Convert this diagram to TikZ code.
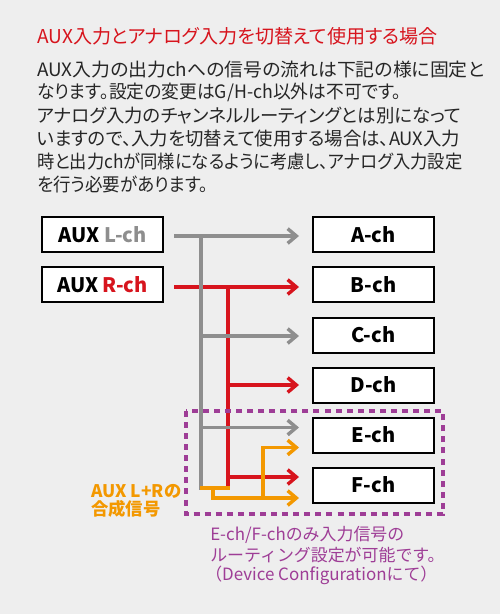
\documentclass[tikz,border=0pt]{standalone}
\usepackage{fontspec}
\setmainfont{Noto Sans CJK JP}
\newfontfamily\jpp{Noto Sans CJK JP}[RawFeature=+palt]
\usetikzlibrary{arrows.meta,calc}
\definecolor{bg}{HTML}{EEEEEE}
\definecolor{myred}{HTML}{D7141D}
\definecolor{mygray}{HTML}{8E8E8E}
\definecolor{myorange}{HTML}{F39800}
\definecolor{mypurple}{HTML}{9E3D96}
\tikzset{
  chbox/.style={draw=black, line width=1.5pt, fill=white, minimum width=90.75pt, minimum height=26.25pt, inner sep=0pt, font=\bfseries\fontsize{15}{18}\selectfont},
  bodyline/.style={anchor=west, inner sep=0pt, font=\jpp\fontsize{13.8}{16}\selectfont, text=black!85},
  notetext/.style={anchor=west, inner sep=0pt, text=mypurple, font=\fontsize{12.7}{15}\selectfont},
  sumtext/.style={anchor=west, inner sep=0pt, text=myorange, font=\bfseries\fontsize{13}{13}\selectfont},
  tip/.style={-{Straight Barb[length=6.5pt,width=11pt]}},
  grayline/.style={draw=mygray, line width=2.6pt},
  redline/.style={draw=myred, line width=2.6pt},
  orangeline/.style={draw=myorange, line width=2.6pt},
}
\begin{document}
\begin{tikzpicture}[x=0.75pt,y=-0.75pt]
\fill[bg] (0,0) rectangle (500,614);
\useasboundingbox (0,0) rectangle (500,614);
% title and body
\node[anchor=west, inner sep=0pt, text=myred, font=\jpp\fontsize{14.3}{17}\selectfont] (title) at (37,36.5) {AUX入力とアナログ入力を切替えて使用する場合};
\node[bodyline] (t1) at (37,70) {\scalebox{1.025}[1]{AUX入力の出力chへの信号の流れは下記の様に固定と}};
\node[bodyline] (t2) at (37,92.9) {\scalebox{0.965}[1]{なります。設定の変更はG/H-ch以外は不可です。}};
\node[bodyline] (t3) at (37,115.8) {アナログ入力のチャンネルルーティングとは別になって};
\node[bodyline] (t4) at (37,138.7) {いますので、入力を切替えて使用する場合は、AUX入力};
\node[bodyline] (t5) at (37,161.6) {\scalebox{0.94}[1]{時と出力chが同様になるように考慮し、アナログ入力設定}};
\node[bodyline] (t6) at (37,184.5) {\scalebox{0.95}[1]{を行う必要があります。}};
% boxes
\node[chbox] (Lch) at (102.5,234.5) {AUX \textcolor{mygray}{L-ch}};
\node[chbox] (Rch) at (102.5,284.5) {AUX \textcolor{myred}{R-ch}};
\node[chbox] (A) at (373.5,234.5) {A-ch};
\node[chbox] (B) at (373.5,284.5) {B-ch};
\node[chbox] (C) at (373.5,335) {C-ch};
\node[chbox] (D) at (373.5,385) {D-ch};
\node[chbox] (E) at (373.5,435) {E-ch};
\node[chbox] (F) at (373.5,485) {F-ch};
% coordinates
\coordinate (gv) at (201,0);
\coordinate (rv) at (228,0);
\coordinate (ot) at (213,0);
\coordinate (ov) at (263,0);
\coordinate (bot) at (0,490);
\coordinate (obot) at (0,488);
\coordinate (gs) at ($(Lch.east)+(10,1.5)$);
\coordinate (rs) at ($(Rch.east)+(10,2.5)$);
\coordinate (yA) at ($(A.west)+(-13,1.5)$);
\coordinate (yB) at ($(B.west)+(-13,2.5)$);
\coordinate (yC) at ($(C.west)+(-13,1)$);
\coordinate (yD) at ($(D.west)+(-13,0)$);
\coordinate (yE) at ($(E.west)+(-13,-7.5)$);
\coordinate (yE2) at ($(E.west)+(-13,12.5)$);
\coordinate (yF) at ($(F.west)+(-13,-8)$);
\coordinate (yF2) at ($(F.west)+(-13,13)$);
% red
\draw[redline,tip] (rs) -- (yB);
\draw[redline] (rs -| rv) -- (bot -| rv);
\draw[redline,tip] (yD -| rv) -- (yD);
\draw[redline,tip] (yF -| rv) -- (yF);
% gray
\draw[grayline,tip] (gs) -- (yA);
\draw[grayline] (gs -| gv) -- (bot -| gv);
\draw[grayline,tip] (yC -| gv) -- (yC);
\draw[grayline,tip] (yE -| gv) -- (yE);
% orange
\draw[orangeline] ($(obot -| gv)+(-1.5,0)$) -- ($(obot -| rv)+(1.5,0)$);
\draw[orangeline,tip] (obot -| ot) -- (yF2 -| ot) -- (yF2);
\draw[orangeline,tip] (yF2 -| ov) -- (yE2 -| ov) -- (yE2);
% dashed frame
\draw[draw=mypurple, line width=2.3pt, dash pattern=on 4.5pt off 3.8pt] (186,411) rectangle (443,514);
% labels
\node[sumtext] (sum1) at (91,491) {AUX L+Rの};
\node[sumtext] (sum2) at (91,508.5) {合成信号};
\node[notetext] (n1) at (210,535) {E-ch/F-chのみ入力信号の};
\node[notetext] (n2) at (210,555) {ルーティング設定が可能です。};
\node[notetext] (n3) at (205,575) {（Device Configurationにて）};
\end{tikzpicture}
\end{document}
